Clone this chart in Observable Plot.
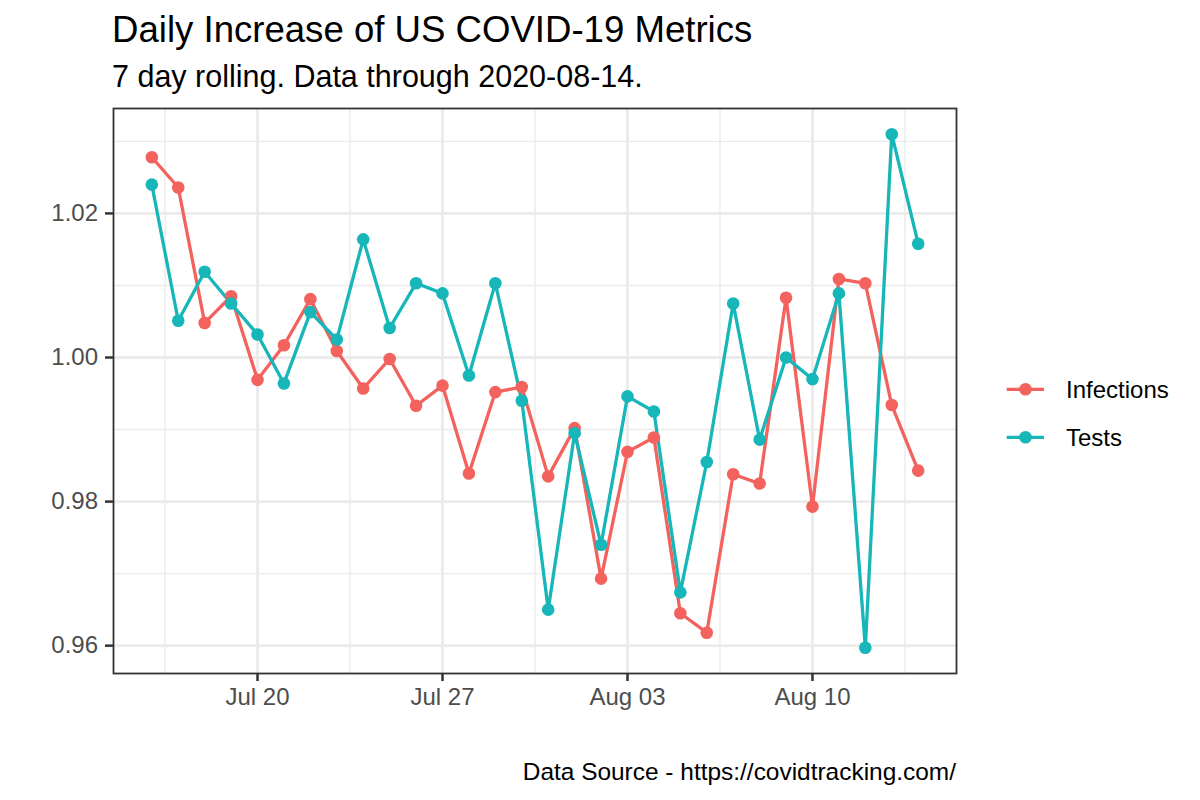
<!DOCTYPE html>
<html>
<head>
<meta charset="utf-8">
<script src="https://cdn.jsdelivr.net/npm/d3@7"></script>
<script src="https://cdn.jsdelivr.net/npm/@observablehq/plot@0.6"></script>
<style>
  html, body { margin: 0; padding: 0; background: #fff; }
  #wrap { position: relative; width: 1200px; height: 800px; font-family: "Liberation Sans", Arial, Helvetica, sans-serif; overflow: hidden; }
  #wrap > svg.plot { position: absolute; left: 0; top: 0; }
  .txt { position: absolute; white-space: nowrap; line-height: 1; color: #000; }
  #title { left: 112px; top: 12px; font-size: 36.6px; }
  #subtitle { left: 112px; top: 61px; font-size: 30.5px; }
  #caption { right: 244px; top: 760px; font-size: 24.45px; }
  #legend { position: absolute; left: 990px; top: 360px; }
</style>
</head>
<body>
<div id="wrap">
  <div id="title" class="txt">Daily Increase of US COVID-19 Metrics</div>
  <div id="subtitle" class="txt">7 day rolling. Data through 2020-08-14.</div>
  <div id="caption" class="txt">Data Source - https://covidtracking.com/</div>
  <div id="legend"></div>
</div>
<script>
const dates = [
  "2020-07-16","2020-07-17","2020-07-18","2020-07-19","2020-07-20","2020-07-21","2020-07-22",
  "2020-07-23","2020-07-24","2020-07-25","2020-07-26","2020-07-27","2020-07-28","2020-07-29",
  "2020-07-30","2020-07-31","2020-08-01","2020-08-02","2020-08-03","2020-08-04","2020-08-05",
  "2020-08-06","2020-08-07","2020-08-08","2020-08-09","2020-08-10","2020-08-11","2020-08-12",
  "2020-08-13","2020-08-14"
];
const infections = [
  1.0278,1.0236,1.0048,1.0085,0.9969,1.0017,1.0081,
  1.0009,0.9957,0.9998,0.9933,0.9961,0.9839,0.9952,
  0.9959,0.9835,0.9902,0.9693,0.9869,0.9889,0.9645,
  0.9618,0.9838,0.9825,1.0083,0.9793,1.0109,1.0103,
  0.9934,0.9843
];
const tests = [
  1.0240,1.0051,1.0119,1.0075,1.0032,0.9964,1.0063,
  1.0025,1.0164,1.0041,1.0103,1.0089,0.9975,1.0103,
  0.9940,0.9650,0.9895,0.9740,0.9946,0.9925,0.9674,
  0.9855,1.0075,0.9886,1.0000,0.9970,1.0089,0.9597,
  1.0310,1.0158
];
const seriesNames = ["Infections", "Tests"];
const seriesColors = ["#F3625D", "#16B6B9"];
const xMajorTicks = ["2020-07-20","2020-07-27","2020-08-03","2020-08-10"];
const xMinorTicks = ["2020-07-16T12:00Z","2020-07-23T12:00Z","2020-07-30T12:00Z","2020-08-06T12:00Z","2020-08-13T12:00Z"];
const yMajorTicks = [0.96, 0.98, 1.00, 1.02];
const yMinorTicks = [0.97, 0.99, 1.01, 1.03];

const parse = d3.utcParse("%Y-%m-%d");
const table = [];
dates.forEach((d, i) => table.push({date: parse(d), value: infections[i], series: "Infections"}));
dates.forEach((d, i) => table.push({date: parse(d), value: tests[i], series: "Tests"}));

// ggplot-style 5% expansion
const xExt = d3.extent(table, d => d.date);
const xPad = (xExt[1] - xExt[0]) * 0.05;
const xDomain = [new Date(+xExt[0] - xPad), new Date(+xExt[1] + xPad)];
const yExt = d3.extent(table, d => d.value);
const yPad = (yExt[1] - yExt[0]) * 0.05;
const yDomain = [yExt[0] - yPad, yExt[1] + yPad];

const xMaj = xMajorTicks.map(parse);
const xMin = xMinorTicks.map(s => new Date(s));

const chart = Plot.plot({
  width: 1200,
  height: 800,
  marginLeft: 113,
  marginRight: 244,
  marginTop: 108,
  marginBottom: 127,
  style: {fontFamily: '"Liberation Sans", Arial, Helvetica, sans-serif', background: "transparent", overflow: "visible"},
  x: {type: "utc", domain: xDomain, label: null},
  y: {domain: yDomain, label: null},
  color: {domain: seriesNames, range: seriesColors},
  marks: [
    Plot.ruleY(yMinorTicks, {stroke: "#EBEBEB", strokeWidth: 1.4}),
    Plot.ruleX(xMin, {stroke: "#EBEBEB", strokeWidth: 1.4}),
    Plot.ruleY(yMajorTicks, {stroke: "#EBEBEB", strokeWidth: 2.8}),
    Plot.ruleX(xMaj, {stroke: "#EBEBEB", strokeWidth: 2.8}),
    Plot.line(table, {x: "date", y: "value", z: "series", stroke: "series", strokeWidth: 3.3}),
    Plot.dot(table, {x: "date", y: "value", fill: "series", r: 6.3}),
    Plot.frame({stroke: "#333333", strokeWidth: 1.8}),
    Plot.axisX({ticks: xMaj, tickFormat: d3.utcFormat("%b %d"), tickSize: 8, tickPadding: 6.5,
      fontSize: 24, fill: "#4D4D4D", stroke: "#333333", strokeWidth: 2.5, label: null}),
    Plot.axisY({ticks: yMajorTicks, tickFormat: d3.format(".2f"), tickSize: 8, tickPadding: 7.5,
      fontSize: 24, fill: "#4D4D4D", stroke: "#333333", strokeWidth: 2.5, label: null})
  ]
});
chart.classList.add("plot");
document.getElementById("wrap").prepend(chart);

// legend
const lg = d3.select("#legend").append("svg").attr("width", 210).attr("height", 100)
  .style("font-family", '"Liberation Sans", Arial, Helvetica, sans-serif');
seriesNames.forEach((name, i) => {
  const g = lg.append("g").attr("transform", `translate(0,${29.3 + 48 * i})`);
  g.append("line").attr("x1", 16.7).attr("x2", 54).attr("stroke", seriesColors[i]).attr("stroke-width", 3.3);
  g.append("circle").attr("cx", 35.5).attr("r", 6.3).attr("fill", seriesColors[i]);
  g.append("text").attr("x", 76).attr("dy", "0.36em").attr("font-size", 24).attr("fill", "#000").text(name);
});
</script>
</body>
</html>
